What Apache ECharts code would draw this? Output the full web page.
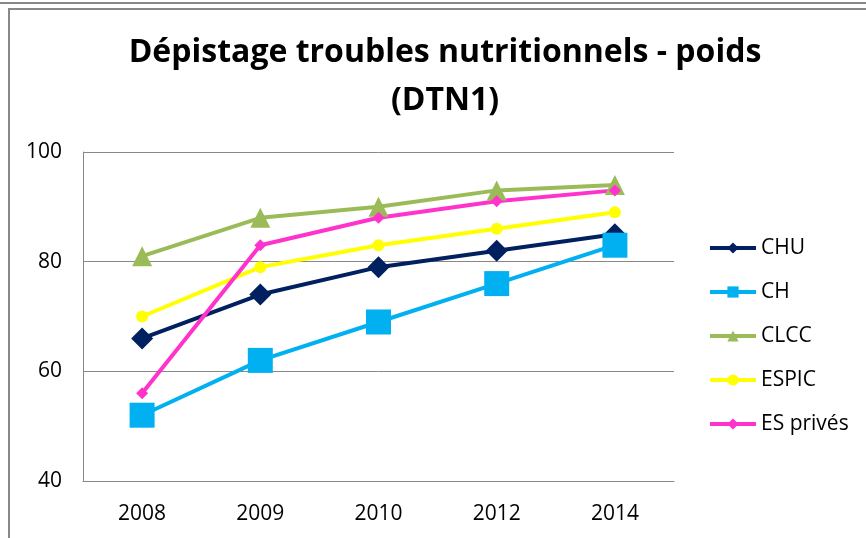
<!DOCTYPE html>
<html>
<head>
<meta charset="utf-8">
<script src="https://cdn.jsdelivr.net/npm/echarts@6/dist/echarts.min.js"></script>
<style>
  html, body { margin: 0; padding: 0; background: #fff; }
  #chart { width: 866px; height: 538px; }
</style>
</head>
<body>
<div id="chart"></div>
<script>
// années
var years = ["2008", "2009", "2010", "2012", "2014"];
var chu = [66, 74, 79, 82, 85];
var ch = [52, 62, 69, 76, 83];
var clcc = [81, 88, 90, 93, 94];
var espic = [70, 79, 83, 86, 89];
var esPrives = [56, 83, 88, 91, 93];

var font = "'Open Sans', sans-serif";

function serie(name, data, color, symbol, size) {
  return {
    name: name,
    type: "line",
    data: data,
    symbol: symbol,
    symbolSize: size,
    lineStyle: { color: color, width: 4 },
    itemStyle: { color: color },
    emphasis: { disabled: true },
  };
}

var myChart = echarts.init(document.getElementById("chart"));
var option = {
  animation: false,
  title: {
    text: "Dépistage troubles nutritionnels - poids\n(DTN1)",
    left: 440,
    textAlign: "center",
    top: 24,
    textStyle: {
      fontFamily: font,
      fontWeight: "bold",
      fontSize: 32,
      lineHeight: 48,
      color: "#000",
    },
  },
  graphic: [
    { type: "line", shape: { x1: 0, y1: 3, x2: 866, y2: 3 }, style: { stroke: "#888", lineWidth: 2 } },
    { type: "rect", shape: { x: 9, y: 9, width: 900, height: 600 }, style: { fill: null, stroke: "#888", lineWidth: 2 } },
  ],
  legend: {
    orient: "vertical",
    left: 703,
    top: 232,
    itemWidth: 46,
    itemHeight: 14,
    itemGap: 22,
    lineStyle: { width: 4 },
    textStyle: { fontFamily: font, fontSize: 21, color: "#000", lineHeight: 22 },
    data: ["CHU", "CH", "CLCC", "ESPIC", "ES privés"],
  },
  grid: { left: 83, right: 192, top: 152, bottom: 57 },
  xAxis: {
    type: "category",
    data: years,
    axisLine: { lineStyle: { color: "#888", width: 1 } },
    axisTick: { show: false },
    axisLabel: { fontFamily: font, fontSize: 21, color: "#000", margin: 23 },
  },
  yAxis: {
    type: "value",
    min: 40,
    max: 100,
    interval: 20,
    axisLine: { show: true, lineStyle: { color: "#888", width: 1 } },
    axisTick: { show: false },
    splitLine: { lineStyle: { color: "#888", width: 1 } },
    axisLabel: { fontFamily: font, fontSize: 21, color: "#000", margin: 21 },
  },
  series: [
    serie("CHU", chu, "#002060", "diamond", 22),
    serie("CH", ch, "#00B0F0", "rect", 25),
    serie("CLCC", clcc, "#9BBB59", "triangle", 20),
    serie("ESPIC", espic, "#FFFF00", "circle", 12),
    serie("ES privés", esPrives, "#FF33CC", "diamond", 12),
  ],
};
option && myChart.setOption(option);
</script>
</body>
</html>
